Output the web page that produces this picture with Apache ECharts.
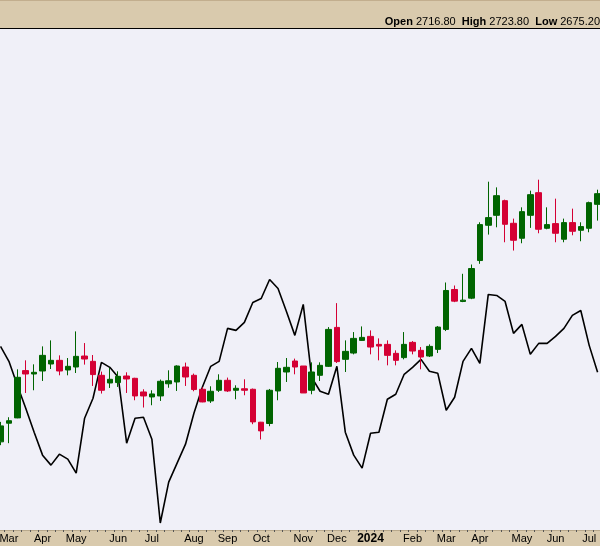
<!DOCTYPE html>
<html>
<head>
<meta charset="utf-8">
<script src="https://cdn.jsdelivr.net/npm/echarts@6/dist/echarts.min.js"></script>
<style>
html,body{margin:0;padding:0;background:#D9CAAD;}
#chart{width:600px;height:546px;}
</style>
</head>
<body>
<div id="chart"></div>
<script>
// Weekly periods (week starting Monday)
const weeks = [
 '2023-02-27','2023-03-06','2023-03-13','2023-03-20','2023-03-27','2023-04-03','2023-04-10','2023-04-17','2023-04-24',
 '2023-05-01','2023-05-08','2023-05-15','2023-05-22','2023-05-29','2023-06-05','2023-06-12','2023-06-19','2023-06-26',
 '2023-07-03','2023-07-10','2023-07-17','2023-07-24','2023-07-31','2023-08-07','2023-08-14','2023-08-21','2023-08-28',
 '2023-09-04','2023-09-11','2023-09-18','2023-09-25','2023-10-02','2023-10-09','2023-10-16','2023-10-23','2023-10-30',
 '2023-11-06','2023-11-13','2023-11-20','2023-11-27','2023-12-04','2023-12-11','2023-12-18','2023-12-25',
 '2024-01-01','2024-01-08','2024-01-15','2024-01-22','2024-01-29','2024-02-05','2024-02-12','2024-02-19','2024-02-26',
 '2024-03-04','2024-03-11','2024-03-18','2024-03-25','2024-04-01','2024-04-08','2024-04-15','2024-04-22','2024-04-29',
 '2024-05-06','2024-05-13','2024-05-20','2024-05-27','2024-06-03','2024-06-10','2024-06-17','2024-06-24',
 '2024-07-01','2024-07-08'
];

const opens = [
 1800.8,1847.5,1860.8,1979.3,1970.8,1978.3,1995.8,2005,1980.8,1988.3,
 2015.8,2002.5,1967.5,1948.3,1949.3,1965.8,1960,1925.8,1913.3,1915.8,
 1946.3,1950.8,1988.3,1967.5,1932.5,1903.3,1930,1955,1930,1933.8,
 1932.5,1850,1846.8,1928.3,1975.8,2003.3,1990.8,1930,1967.5,1990,
 2087.5,2007.5,2023.3,2055,2065,2045,2045,2022.5,2011.8,2050,
 2030,2015.8,2032.5,2082.5,2182.5,2152.5,2160.8,2255,2343.3,2368.3,
 2405,2348.3,2310.8,2368.3,2425,2335.8,2347.5,2308.3,2350,2330.8,
 2335.8,2395.8
];
const closes = [
 1840.8,1853.8,1962.5,1970.8,1975,2017.5,2005,1978.3,1990,2015,
 2008.3,1969.3,1930,1957.5,1965,1958.3,1915.8,1915.8,1920.8,1952.5,
 1953.8,1990.8,1963.3,1931.8,1900.8,1927.5,1955,1928.3,1935,1930,
 1850.8,1828.3,1930,1985,1987.5,1988.3,1923.3,1975.8,1992.5,2082.5,
 2001.8,2027.5,2060,2062.5,2038.3,2040.8,2017.5,2005,2045,2028.3,
 2013.3,2040,2088.3,2180,2153.3,2155.8,2235,2345,2362.5,2417.5,
 2345.8,2305.8,2377.5,2420,2333.3,2345,2323.3,2350,2328.3,2340,
 2400,2422.5
];
const highs = [
 1850.8,1862.5,1982.5,2005,1995,2040,2055,2017.5,2010.8,2077.5,
 2048.3,2018.3,1976.8,1985.8,1977.5,1975,1961.3,1932.5,1930,1956.8,
 1980,1992.5,1999.3,1971.8,1937.5,1940,1970,1961.8,1942.5,1957.5,
 1934.3,1850.8,1933.3,2000.8,2010.8,2009.3,1990.8,2000,2000,2088.3,
 2148.3,2055,2075.8,2090,2080,2060,2055,2030,2075.8,2053.3,
 2038.3,2045,2090.8,2200,2192.5,2221.8,2245,2350.8,2452.5,2438.3,
 2407.5,2360,2388.3,2430,2457.5,2388.3,2410,2360,2385,2350.8,
 2402.5,2432.5
];
const lows = [
 1792.5,1797.5,1860,1923.3,1930,1953.3,1983.3,1967.5,1967.5,1973.3,
 1994.3,1940.8,1921.8,1935.8,1938.3,1923.3,1905,1886.8,1892.5,1903.3,
 1936.3,1928.3,1940.8,1927.5,1900,1898.3,1925.8,1925.8,1907.5,1917.5,
 1845,1806.8,1840,1905,1950.8,1970,1923.3,1920,1953.3,1988.3,
 1998.3,1975.8,2020,2053.8,2020,2005,1992.5,1992.5,2007.5,2020,
 1982.5,2013.3,2023.3,2078.3,2150.8,2150.8,2158.3,2246.8,2320,2338.3,
 2300.8,2280,2298.3,2336.8,2323.3,2333.3,2300.8,2300.8,2318.3,2303.3,
 2325.8,2355
];
// Overlay indicator line (own scale)
const overlay = [
 36.8,33.8,29,24.4,19.6,15,13,15.2,14.2,11.4,
 22.4,26.4,33.6,32.6,30.6,17.4,22.4,22.6,18.2,1.4,
 9.6,13.4,17.2,23.4,28.6,32.8,33.8,40.4,40,41.6,
 45.6,46.4,50.2,48.4,43.8,39,45.2,30.6,27.8,27.2,
 32.8,19.6,15,12.4,19.4,19.6,26.2,27.2,31.2,32.6,
 34.2,31.8,31.4,24,26.6,33.8,36.4,33.4,47.2,47,
 45.8,39.4,41.2,35.2,37.4,37.4,38.8,40.4,43,44,
 37,31.6
];
// Month tick labels (index into weeks)
const tickIndex = [1,5,9,14,18,23,27,31,36,40,44,49,53,57,62,66,70];
const tickText  = ['Mar','Apr','May','Jun','Jul','Aug','Sep','Oct','Nov','Dec','2024','Feb','Mar','Apr','May','Jun','Jul'];

const header = {open: '2716.80', high: '2723.80', low: '2675.20'};

const candleData = weeks.map((w, i) => [opens[i], closes[i], lows[i], highs[i]]);
const labelMap = {};
tickIndex.forEach((ix, k) => { labelMap[ix] = tickText[k]; });

const chart = echarts.init(document.getElementById('chart'), null, {renderer: 'canvas'});
chart.setOption({
  animation: false,
  backgroundColor: '#D9CAAD',
  textStyle: {fontFamily: 'Liberation Sans, Arial, sans-serif'},
  title: {
    right: 0, top: 15, padding: 0,
    text: '{b|Open} {n|' + header.open + '}  {b|High} {n|' + header.high + '}  {b|Low} {n|' + header.low + '}',
    textStyle: {
      fontSize: 11, color: '#000', fontWeight: 'normal', lineHeight: 13,
      rich: {
        b: {fontSize: 11, fontWeight: 'bold', color: '#000', fontFamily: 'Liberation Sans, Arial, sans-serif'},
        n: {fontSize: 11, color: '#000', fontFamily: 'Liberation Sans, Arial, sans-serif'}
      }
    }
  },
  graphic: [
    {type: 'line', shape: {x1: 0, y1: 28.5, x2: 600, y2: 28.5}, style: {stroke: '#000', lineWidth: 1}, z: 100},
    {type: 'line', shape: {x1: 0, y1: 0.5, x2: 600, y2: 0.5}, style: {stroke: '#C2AE8E', lineWidth: 1}, z: 100}
  ],
  grid: {
    left: -3.7, width: 605.5, top: 29, bottom: 16,
    outerBoundsMode: 'none',
    containLabel: false,
    show: true, backgroundColor: '#F0F0F8', borderWidth: 0
  },
  xAxis: {
    type: 'category',
    data: weeks,
    boundaryGap: true,
    axisLine: {show: true, lineStyle: {color: '#B9A98C', width: 1}},
    axisTick: {show: true, interval: 0, length: 2, lineStyle: {color: '#555', width: 1}},
    splitLine: {show: false},
    axisLabel: {
      interval: (index) => labelMap[index] !== undefined,
      margin: 3,
      fontSize: 11,
      color: '#000',
      hideOverlap: false,
      formatter: (value, index) => {
        const t = labelMap[index];
        if (t === undefined) return '';
        return /^\d+$/.test(t) ? '{y|' + t + '}' : t;
      },
      rich: {y: {fontSize: 12, fontWeight: 'bold', color: '#000'}}
    }
  },
  yAxis: [
    {type: 'value', min: 1580, max: 2835, show: false, splitLine: {show: false}, scale: true},
    {type: 'value', min: 0, max: 100.4, show: false, splitLine: {show: false}}
  ],
  series: [
    {
      type: 'line',
      yAxisIndex: 1,
      data: overlay,
      symbol: 'none',
      z: 1,
      lineStyle: {color: '#000', width: 1.6},
      silent: true
    },
    {
      type: 'candlestick',
      yAxisIndex: 0,
      data: candleData,
      barWidth: 6,
      z: 2,
      itemStyle: {
        color: '#006400', color0: '#D40034',
        borderColor: '#006400', borderColor0: '#D40034',
        borderWidth: 1
      }
    }
  ]
});
</script>
</body>
</html>
